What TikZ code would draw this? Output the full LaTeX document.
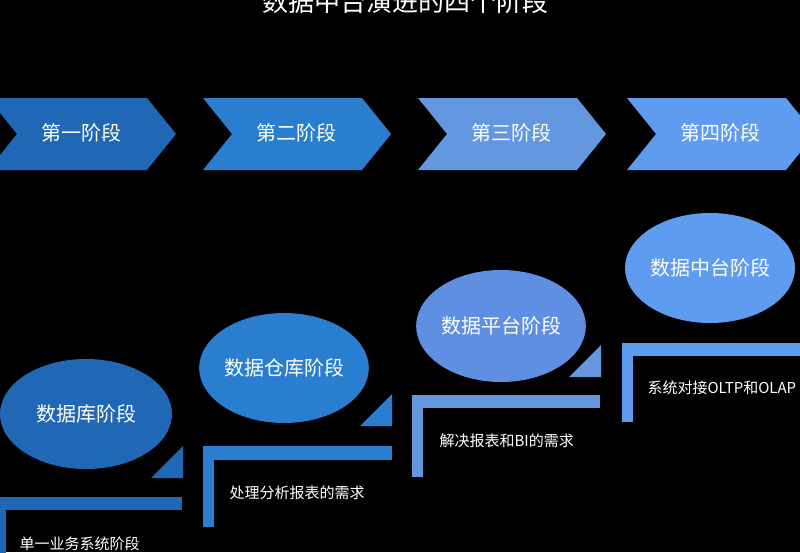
\documentclass[tikz,border=0pt]{standalone}
\usepackage{fontspec}
\setmainfont{Noto Sans CJK SC}
\usetikzlibrary{shapes.geometric}
\definecolor{cA}{HTML}{2068B5}
\definecolor{cB}{HTML}{2A7ECF}
\definecolor{cC}{HTML}{6397E0}
\definecolor{cD}{HTML}{5E9CF0}
\tikzset{lbl/.style={text=white,font=\fontsize{20}{20}\selectfont},
 sml/.style={text=white,font=\fontsize{15}{15}\selectfont,anchor=west},
 ell/.style={ellipse,inner sep=0pt,text=white,font=\fontsize{20}{20}\selectfont}}
\begin{document}
\begin{tikzpicture}[x=1pt,y=-1pt]
\useasboundingbox (0,0) rectangle (800,552);
\fill[black] (0,0) rectangle (800,552);
\node[text=white,font=\fontsize{26}{26}\selectfont] (title) at (405,2) {数据中台演进的四个阶段};
% chevrons
\foreach \x/\c/\t/\n in {-12/cA/第一阶段/c1, 203/cB/第二阶段/c2, 418/cC/第三阶段/c3, 627/cD/第四阶段/c4}{
  \fill[\c] (\x,98) -- ++(159,0) -- ++(29,36) -- ++(-29,36) -- ++(-159,0) -- ++(29,-36) -- cycle;
  \node[lbl] (\n) at ({\x+93},133) {\t};
}
% ellipses
\node[ell,fill=cA,minimum width=172pt,minimum height=110pt] (e1) at (86,414) {数据库阶段};
\node[ell,fill=cB,minimum width=146pt,minimum height=110pt] (e2) at (284,368) {数据仓库阶段};
\node[ell,fill=cC!95!blue,minimum width=168pt,minimum height=112pt] (e3) at (501,326) {数据平台阶段};
\node[ell,fill=cD,minimum width=170pt,minimum height=110pt] (e4) at (710,268) {数据中台阶段};
% brackets and triangles
\fill[cA] (-5,497) rectangle (182,510); \fill[cA] (-5,497) rectangle (6,560);
\fill[cA] (151,478) -- (183,478) -- (183,446) -- cycle;
\fill[cB] (203,446) rectangle (392,460); \fill[cB] (203,446) rectangle (214,527);
\fill[cB] (360,426) -- (392,426) -- (392,394) -- cycle;
\fill[cC] (412,395) rectangle (600,408); \fill[cC] (412,395) rectangle (423,477);
\fill[cC] (569,377) -- (601,377) -- (601,345) -- cycle;
\fill[cD] (622,343) rectangle (805,356); \fill[cD] (622,343) rectangle (633,422);
% texts
\node[sml] (t1) at (16,544) {单一业务系统阶段};
\node[sml] (t2) at (226,493) {处理分析报表的需求};
\node[sml] (t3) at (436,441) {解决报表和BI的需求};
\node[sml] (t4) at (644,388) {系统对接OLTP和OLAP};
\end{tikzpicture}
\end{document}
